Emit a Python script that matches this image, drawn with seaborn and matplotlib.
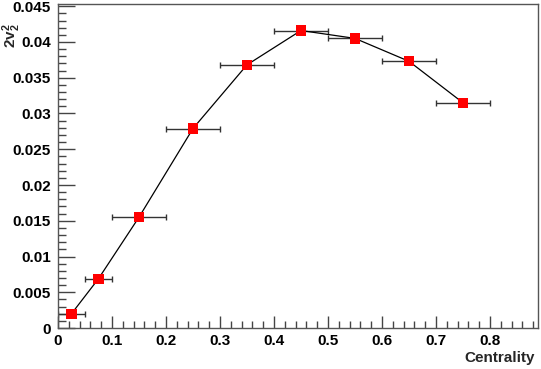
import matplotlib
matplotlib.use("Agg")
import matplotlib.pyplot as plt
import numpy as np
import pandas as pd
import seaborn as sns
from matplotlib.ticker import MultipleLocator, FuncFormatter

# values
centrality = [0.025, 0.075, 0.15, 0.25, 0.35, 0.45, 0.55, 0.65, 0.75]
cent_err = [0.025, 0.025, 0.05, 0.05, 0.05, 0.05, 0.05, 0.05, 0.05]
v2sq = [0.0020, 0.0069, 0.0155, 0.0279, 0.0368, 0.0416, 0.0405, 0.0373, 0.0315]

df = pd.DataFrame({"Centrality": centrality, "v2sq": v2sq, "xerr": cent_err})

sns.set_style("ticks")
plt.rcParams["font.family"] = ["Liberation Sans", "DejaVu Sans"]
plt.rcParams["font.weight"] = "bold"
plt.rcParams["mathtext.fontset"] = "custom"
plt.rcParams["mathtext.rm"] = "Liberation Sans:bold"
plt.rcParams["mathtext.it"] = "Liberation Sans:bold"
plt.rcParams["mathtext.bf"] = "Liberation Sans:bold"

fig = plt.figure(figsize=(5.41, 3.69), dpi=100)
ax = fig.add_axes([0.1072, 0.111, 0.8873, 0.878])

ax.errorbar(df["Centrality"], df["v2sq"], xerr=df["xerr"], fmt="none",
            ecolor="#333333", elinewidth=1.0, capsize=2.5, capthick=1.0, zorder=2)
sns.lineplot(data=df, x="Centrality", y="v2sq", color="black", linewidth=0.9,
             ax=ax, zorder=3, sort=False)
sns.scatterplot(data=df, x="Centrality", y="v2sq", marker="s", s=55, color="#ff0000",
                edgecolor="none", ax=ax, zorder=4)

ax.set_xlim(0, 0.889)
ax.set_ylim(0, 0.0453)

ax.xaxis.set_major_locator(MultipleLocator(0.1))
ax.xaxis.set_minor_locator(MultipleLocator(0.02))
ax.yaxis.set_major_locator(MultipleLocator(0.005))
ax.yaxis.set_minor_locator(MultipleLocator(0.001))

def fmt(v, pos):
    s = f"{v:.3f}".rstrip("0").rstrip(".")
    return "0" if s in ("0", "-0") else s

ax.xaxis.set_major_formatter(FuncFormatter(fmt))
ax.yaxis.set_major_formatter(FuncFormatter(fmt))

ax.tick_params(axis="both", which="both", direction="in", colors="#444444",
               labelcolor="black", labelsize=11, top=False, right=False)
ax.tick_params(axis="y", which="major", length=12, width=1.0, pad=5)
ax.tick_params(axis="y", which="minor", length=6, width=1.0)
ax.tick_params(axis="x", which="major", length=9, width=1.0, pad=4)
ax.tick_params(axis="x", which="minor", length=5, width=1.0)
for lab in ax.get_xticklabels() + ax.get_yticklabels():
    lab.set_fontweight("bold")

for sp in ax.spines.values():
    sp.set_color("#555555")
    sp.set_linewidth(1.0)

ax.set_xlabel("Centrality", fontsize=11, fontweight="bold", loc="right")
ax.xaxis.label.set_va("top")
ax.xaxis.set_label_coords(0.994, -0.072)

ax.set_ylabel(r"$\mathbf{2v_2^2}$", fontsize=11, fontweight="bold", loc="top")
ax.yaxis.label.set_va("center")
ax.yaxis.set_label_coords(-0.097, 0.94)

fig.savefig("out.png", dpi=100)
